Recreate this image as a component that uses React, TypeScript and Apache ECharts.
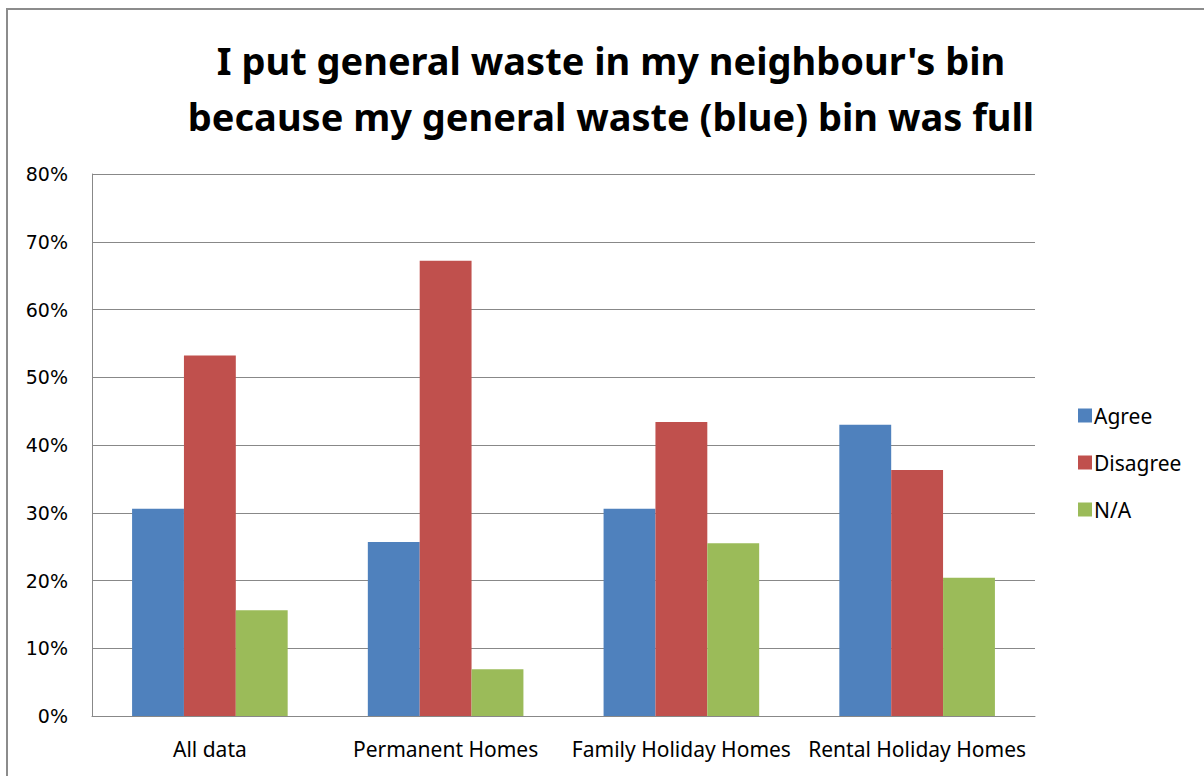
import React, { useEffect, useRef } from "react";
import * as echarts from "echarts";

const categories = ["All data", "Permanent Homes", "Family Holiday Homes", "Rental Holiday Homes"];
const agree = [30.6, 25.7, 30.6, 43.0];
const disagree = [53.2, 67.2, 43.4, 36.3];
const na = [15.6, 6.9, 25.5, 20.4];
const titleLines = ["I put general waste in my neighbour's bin", "because my general waste (blue) bin was full"];

const FONT = "'Noto Sans', sans-serif";

export default function App() {
  const ref = useRef<HTMLDivElement>(null);
  useEffect(() => {
    if (!ref.current) return;
    const chart = echarts.init(ref.current, undefined, { renderer: "svg" });
    const bar = (name: string, data: number[], color: string) => ({
      name,
      type: "bar",
      data,
      barGap: "0%",
      barCategoryGap: "34%",
      itemStyle: { color },
    });
    chart.setOption({
      animation: false,
      backgroundColor: "#ffffff",
      title: {
        text: titleLines.join("\n"),
        left: 606,
        textAlign: "center",
        top: 27,
        textStyle: { fontFamily: FONT, fontWeight: "bold", fontSize: 38, lineHeight: 56, color: "#000" },
      },
      graphic: [
        {
          type: "rect",
          shape: { x: 7, y: 9, width: 1400, height: 1000 },
          style: { fill: "none", stroke: "#8c8c8c", lineWidth: 2 },
          silent: true,
        },
      ],
      legend: {
        orient: "vertical",
        left: 1073,
        top: 400,
        itemWidth: 14,
        itemHeight: 14,
        itemGap: 26,
        icon: "rect",
        textStyle: { fontFamily: FONT, fontSize: 21, color: "#000", padding: [0, 0, 0, -3] },
      },
      grid: { left: 92, right: 169, top: 174, bottom: 60, containLabel: false },
      xAxis: {
        type: "category",
        data: categories,
        axisLine: { lineStyle: { color: "#888", width: 1 } },
        axisTick: { show: false },
        axisLabel: { fontFamily: FONT, fontSize: 21, color: "#000", margin: 22, interval: 0 },
      },
      yAxis: {
        type: "value",
        min: 0,
        max: 80,
        interval: 10,
        axisLine: { show: true, lineStyle: { color: "#888" } },
        axisTick: { show: false },
        splitLine: { lineStyle: { color: "#888", width: 1 } },
        axisLabel: { formatter: "{value}%", fontFamily: "'DejaVu Sans', sans-serif", fontSize: 19, color: "#000", margin: 24 },
      },
      series: [
        bar("Agree", agree, "#4F81BD"),
        bar("Disagree", disagree, "#C0504D"),
        bar("N/A", na, "#9BBB59"),
      ],
    });
    return () => chart.dispose();
  }, []);
  return <div ref={ref} style={{ position: "fixed", left: 0, top: 0, width: 1204, height: 776 }} />;
}
